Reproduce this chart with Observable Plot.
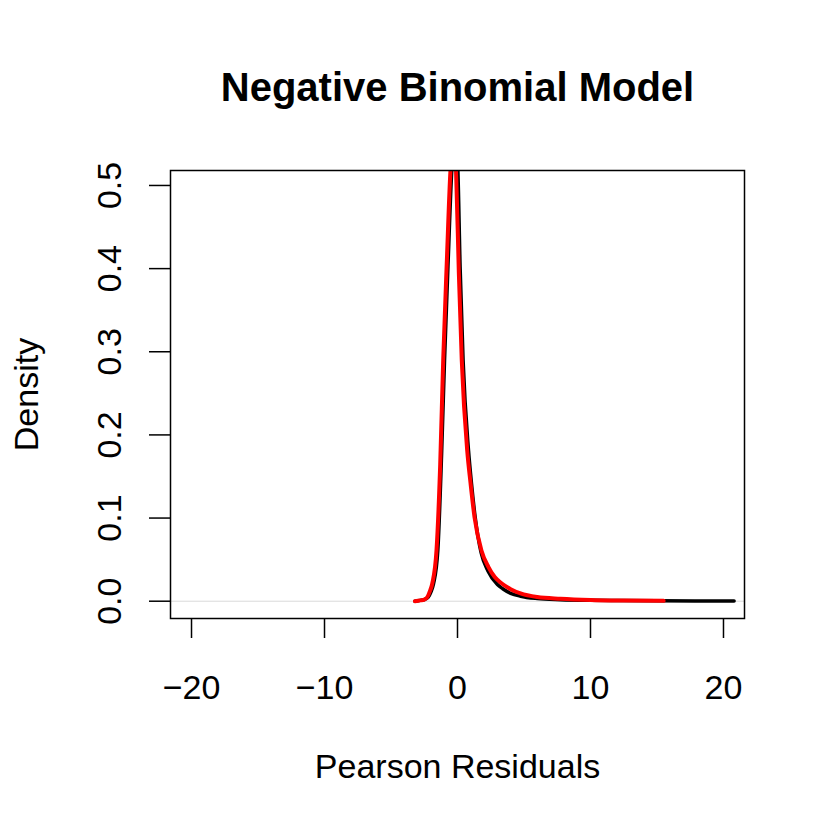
<!DOCTYPE html>
<html>
<head>
<meta charset="utf-8">
<script src="https://cdn.jsdelivr.net/npm/d3@7"></script>
<script src="https://cdn.jsdelivr.net/npm/@observablehq/plot@0.6"></script>
<style>
  html, body { margin: 0; padding: 0; background: #fff; }
</style>
</head>
<body>
<div id="chart"></div>
<script>
const titleText = "Negative Binomial Model";
const xLabel = "Pearson Residuals";
const yLabel = "Density";
const xTicks = [-20, -10, 0, 10, 20];
const yTicks = [0.0, 0.1, 0.2, 0.3, 0.4, 0.5];

// Black curve: observed density of Pearson residuals
const blackX = [-3.2, -2.8, -2.5, -2.2, -2.0, -1.8, -1.48, -1.2, -0.975, -0.7, -0.43, -0.2, 0.0, 0.2, 0.42, 0.83, 1.05, 1.33, 1.78, 2.3, 3.0, 3.4, 4.0, 4.74, 6.0, 7.74, 10, 12, 15, 18, 20.8];
const blackY = [0.0, 0.001, 0.002, 0.005, 0.011, 0.021, 0.061, 0.175, 0.290, 0.410, 0.518, 0.556, 0.530, 0.400, 0.290, 0.181, 0.142, 0.101, 0.058, 0.036, 0.020, 0.015, 0.0095, 0.006, 0.0032, 0.0018, 0.001, 0.0007, 0.0004, 0.0003, 0.0002];

// Red curve: model density
const redX = [-3.2, -2.8, -2.5, -2.28, -2.1, -1.9, -1.58, -1.3, -1.075, -0.8, -0.53, -0.3, -0.11, 0.1, 0.32, 0.73, 0.98, 1.28, 1.8, 2.33, 2.8, 3.36, 4.0, 4.74, 6.0, 7.74, 10, 12.5, 15.5];
const redY = [0.0, 0.001, 0.002, 0.0045, 0.011, 0.021, 0.061, 0.165, 0.290, 0.410, 0.518, 0.556, 0.518, 0.395, 0.290, 0.181, 0.142, 0.101, 0.061, 0.041, 0.029, 0.021, 0.0145, 0.0093, 0.005, 0.003, 0.0015, 0.0008, 0.0004];

const black = blackX.map((x, i) => ({x, y: blackY[i]}));
const red = redX.map((x, i) => ({x, y: redY[i]}));

const fmtX = d => d < 0 ? "\u2212" + Math.abs(d) : String(d);

const chart = Plot.plot({
  width: 830,
  height: 830,
  marginLeft: 170,
  marginRight: 86,
  marginTop: 170,
  marginBottom: 212,
  style: {fontFamily: "'Liberation Sans', Arial, Helvetica, sans-serif", fontSize: "34px", color: "black", background: "white"},
  x: {domain: [-21.58, 21.58]},
  y: {domain: [-0.0208, 0.518]},
  marks: [
    Plot.ruleY([0], {stroke: "#d9d9d9", strokeWidth: 1}),
    Plot.line(black, {x: "x", y: "y", stroke: "black", strokeWidth: 3.5, curve: "monotone-x", strokeLinecap: "round", strokeLinejoin: "round", clip: true}),
    Plot.line(red, {x: "x", y: "y", stroke: "#ff0000", strokeWidth: 4, curve: "monotone-x", strokeLinecap: "round", strokeLinejoin: "round", clip: true}),
    Plot.frame({stroke: "black", strokeWidth: 1.5}),
    Plot.axisX({ticks: xTicks, tickSize: 20, tickPadding: 36, tickFormat: fmtX, fontSize: 34, label: null, strokeWidth: 1.5}),
    Plot.axisY({ticks: yTicks, tickSize: 21, tickFormat: () => "", label: null, strokeWidth: 1.5}),
    Plot.text(yTicks, {y: d => d, text: d => d.toFixed(1), frameAnchor: "left", dx: -50, rotate: -90, textAnchor: "middle", lineAnchor: "bottom", fontSize: 34}),
    Plot.text([titleText], {frameAnchor: "top", dy: -70, lineAnchor: "bottom", fontSize: 40, fontWeight: "bold"}),
    Plot.text([xLabel], {frameAnchor: "bottom", dy: 159, lineAnchor: "bottom", fontSize: 34}),
    Plot.text([yLabel], {frameAnchor: "left", dx: -133, rotate: -90, textAnchor: "middle", lineAnchor: "bottom", fontSize: 34})
  ]
});
document.getElementById("chart").appendChild(chart);
</script>
</body>
</html>
